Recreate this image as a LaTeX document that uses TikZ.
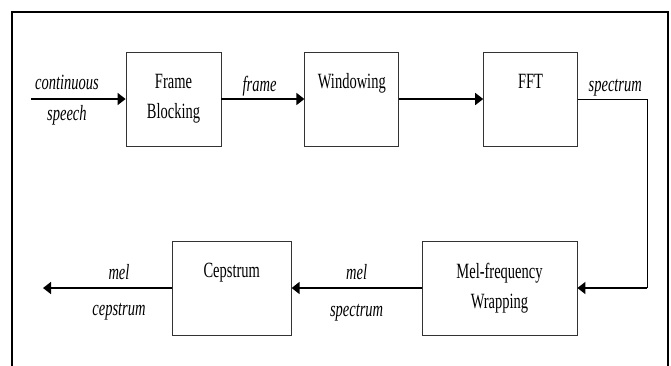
\documentclass[tikz,border=0pt]{standalone}
\usepackage{fontspec}
\setmainfont{Liberation Serif}
\usetikzlibrary{positioning}
\usetikzlibrary{arrows.meta}
\newcommand{\tall}[1]{\scalebox{1}[1.5]{#1}}

\begin{document}
\begin{tikzpicture}[x=1pt,y=-1pt,
    blk/.style={draw=black!80,line width=0.8pt,minimum height=94pt,inner sep=0pt},
    blktxt/.style={inner sep=0pt,align=center,font=\fontsize{14.5}{30}\selectfont},
    lbl/.style={inner sep=0pt,anchor=base,font=\fontsize{14.5}{17}\selectfont\itshape},
    arr/.style={line width=1.6pt,-{Triangle[length=8pt,width=12pt]}}]
  \useasboundingbox (0,0) rectangle (671,365);
  % outer frame
  \draw[line width=2.6pt] (12,370) -- (12,12) -- (668,12) -- (668,370);

  % top row
  \node[blk,minimum width=95pt] (fb) at (173.5,99) {};
  \node[blk,minimum width=94pt] (win) [right=83pt of fb] {};
  \node[blk,minimum width=94pt] (fft) [right=84pt of win] {};
  \node[blktxt,below=22pt of fb.north] (fbt) {\tall{Frame}\\\tall{Blocking}};
  \node[blktxt,below=22pt of win.north] (wint) {\tall{Windowing}};
  \node[blktxt,below=22pt of fft.north] (fftt) {\tall{FFT}};

  % bottom row
  \node[blk,minimum width=155pt] (mel) at (499.5,288) {};
  \node[blk,minimum width=119pt] (cep) [left=130pt of mel] {};
  \node[blktxt,below=22pt of mel.north] (melt) {\tall{Mel-frequency}\\\tall{Wrapping}};
  \node[blktxt,below=22pt of cep.north] (cept) {\tall{Cepstrum}};

  \coordinate (src) at (31,99);
  \coordinate (bend) at (647,288);
  \coordinate (sink) at (43,288);

  \draw[arr] (src) -- (fb.west)
    node[lbl,pos=.38,yshift=10pt] {\tall{continuous}}
    node[lbl,pos=.38,yshift=-21pt] {\tall{speech}};
  \draw[arr] (fb.east) -- (win.west)
    node[lbl,pos=.46,yshift=8pt] {\tall{frame}};
  \draw[arr] (win.east) -- (fft.west);
  \draw[line width=0.8pt] (fft.east) -| (bend)
    node[lbl,pos=.27,yshift=8pt] {\tall{spectrum}};
  \draw[arr] (bend) -- (mel.east);
  \draw[arr] (mel.west) -- (cep.east)
    node[lbl,pos=.5,yshift=9pt] {\tall{mel}}
    node[lbl,pos=.5,yshift=-28pt] {\tall{spectrum}};
  \draw[arr] (cep.west) -- (sink)
    node[lbl,pos=.41,yshift=9pt] {\tall{mel}}
    node[lbl,pos=.41,yshift=-27pt] {\tall{cepstrum}};
\end{tikzpicture}
\end{document}
